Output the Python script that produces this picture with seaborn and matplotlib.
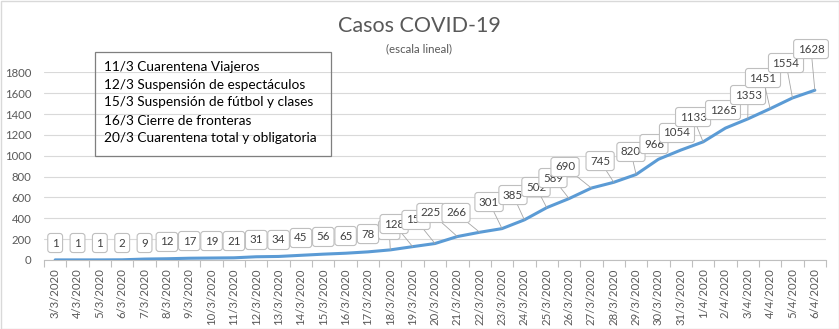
import numpy as np
import pandas as pd
import matplotlib
matplotlib.use("Agg")
import matplotlib.pyplot as plt
from matplotlib.patches import Rectangle
from matplotlib.ticker import FixedLocator
import seaborn as sns

# Daily cumulative confirmed cases
fechas = [
    "3/3/2020", "4/3/2020", "5/3/2020", "6/3/2020", "7/3/2020", "8/3/2020",
    "9/3/2020", "10/3/2020", "11/3/2020", "12/3/2020", "13/3/2020", "14/3/2020",
    "15/3/2020", "16/3/2020", "17/3/2020", "18/3/2020", "19/3/2020", "20/3/2020",
    "21/3/2020", "22/3/2020", "23/3/2020", "24/3/2020", "25/3/2020", "26/3/2020",
    "27/3/2020", "28/3/2020", "29/3/2020", "30/3/2020", "31/3/2020", "1/4/2020",
    "2/4/2020", "3/4/2020", "4/4/2020", "5/4/2020", "6/4/2020",
]
casos = [
    1, 1, 1, 2, 9, 12, 17, 19, 21, 31, 34, 45, 56, 65, 78, 97, 128, 158,
    225, 266, 301, 385, 502, 589, 690, 745, 820, 966, 1054, 1133, 1265,
    1353, 1451, 1554, 1628,
]

# Milestones listed in the note box
hitos = [
    "11/3 Cuarentena Viajeros",
    "12/3 Suspensión de espectáculos",
    "15/3 Suspensión de fútbol y clases",
    "16/3 Cierre de fronteras",
    "20/3 Cuarentena total y obligatoria",
]

yticks = [0, 200, 400, 600, 800, 1000, 1200, 1400, 1600, 1800]

# Where each value callout sits (category position, case level)
label_x = [0, 1, 2, 3, 4, 5, 6, 7, 8, 9, 10, 11, 12, 13, 14,
           14.95, 15.17, 16.15, 16.82, 17.94, 19.42, 20.49, 21.52, 22.28,
           22.82, 24.39, 25.77, 26.8, 27.83, 28.55, 29.89, 31.01, 31.68,
           32.71, 33.83]
label_y = [163, 163, 163, 163, 163, 173, 182, 182, 182, 192, 192, 211, 221,
           230, 249, 288, 345, 384, 451, 451, 556, 623, 700, 786, 892, 949,
           1036, 1112, 1218, 1371, 1438, 1582, 1745, 1889, 2023]

df = pd.DataFrame({"fecha": fechas, "casos": casos})

sns.set_theme(style="white")
plt.rcParams["font.family"] = ["Lato", "DejaVu Sans"]

W, H = 839, 329
fig = plt.figure(figsize=(W / 100, H / 100), dpi=100)
ax = fig.add_axes([44 / W, 1 - 260 / H, (826 - 44) / W, (260 - 72.3) / H])

sns.lineplot(data=df, x="fecha", y="casos", sort=False, ax=ax,
             color="#5B9BD5", linewidth=2.2, zorder=3)
ax.lines[0].set_solid_capstyle("round")
ax.lines[0].set_solid_joinstyle("round")

n = len(fechas)
ax.set_xlim(-0.5, n - 0.5)
ax.set_ylim(0, 1800)
ax.set_yticks(yticks)
ax.set_xlabel("")
ax.set_ylabel("")

# Horizontal gridlines only
ax.grid(False)
ax.yaxis.grid(True, color="#D9D9D9", linewidth=0.8)
ax.set_axisbelow(True)
for s in ["top", "right", "left"]:
    ax.spines[s].set_visible(False)
ax.spines["bottom"].set_color("#BFBFBF")
ax.spines["bottom"].set_linewidth(0.8)

ax.set_xticks(range(n))
ax.set_xticklabels(fechas, rotation=90, fontsize=8.2, color="#595959")
ax.xaxis.set_minor_locator(FixedLocator(np.arange(-0.5, n, 1.0)))
ax.tick_params(axis="x", which="major", length=0, pad=6)
ax.tick_params(axis="x", which="minor", length=5, color="#BFBFBF", width=0.8,
               direction="out", bottom=True)
ax.tick_params(axis="y", length=0, pad=9, labelsize=8.2, labelcolor="#595959")

# Value callouts with leader lines
trans = ax.transData
for k, (v, lx, ly) in enumerate(zip(casos, label_x, label_y)):
    p0 = trans.transform((k, v))
    p1 = trans.transform((lx, ly))
    far = np.hypot(*(p1 - p0)) > 19
    arrow = dict(arrowstyle="-", color="#A6A6A6", lw=0.6,
                 shrinkA=0, shrinkB=0) if far else None
    ax.annotate(str(v), xy=(k, v), xytext=(lx, ly), textcoords="data",
                ha="center", va="center", fontsize=8.3, color="#404040",
                bbox=dict(boxstyle="round,pad=0.35,rounding_size=0.25",
                          fc="white", ec="#BFBFBF", lw=0.8),
                arrowprops=arrow, annotation_clip=False, zorder=4 + k * 0.01)

# Title and subtitle
fig.text(419 / W, 1 - 26 / H, "Casos COVID-19", ha="center", va="center",
         fontsize=15.5, color="#595959")
fig.text(419 / W, 1 - 49 / H, "(escala lineal)", ha="center", va="center",
         fontsize=8.3, color="#595959")

# Milestones note box
fig.patches.append(Rectangle((94.5 / W, 1 - 156 / H), (330.5 - 94.5) / W,
                             (156 - 52.3) / H, transform=fig.transFigure,
                             fill=False, ec="#7F7F7F", lw=0.9))
for j, t in enumerate(hitos):
    fig.text(104 / W, 1 - (66.7 + 17.9 * j) / H, t, ha="left", va="center",
             fontsize=9.8, color="#000000")

# Chart area border
fig.patches.append(Rectangle((0.5 / W, 0.5 / H), 1 - 1 / W, 1 - 1 / H,
                             transform=fig.transFigure, fill=False,
                             ec="#D9D9D9", lw=1))

fig.savefig("out.png", dpi=100, facecolor="white")
